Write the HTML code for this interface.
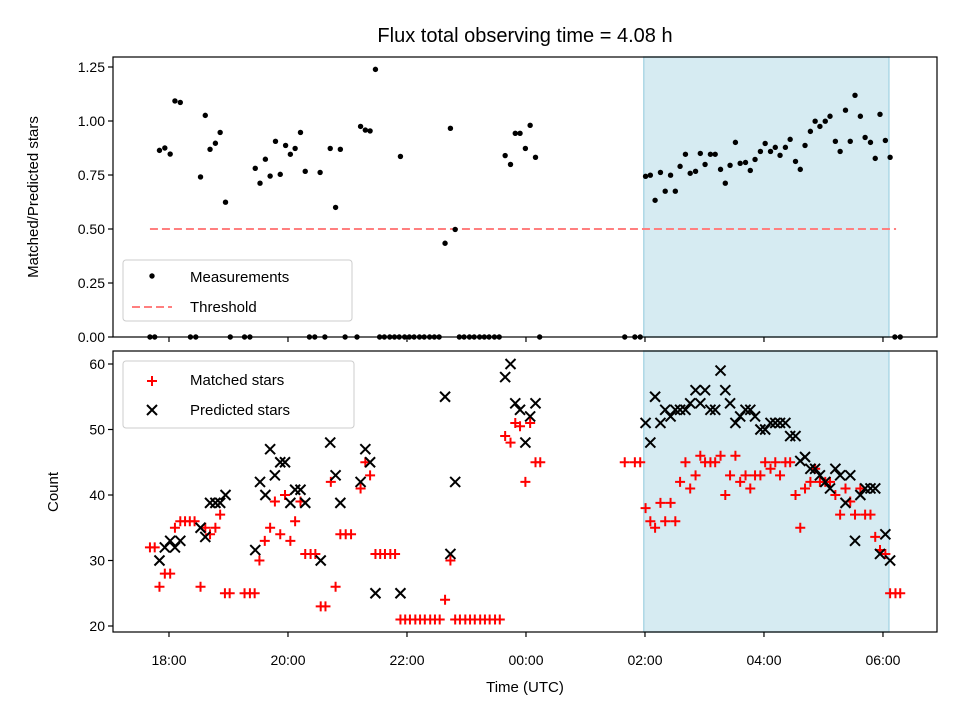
<!DOCTYPE html>
<html><head><meta charset="utf-8"><style>
body{margin:0;background:#fff}
svg{display:block;font-family:"Liberation Sans","DejaVu Sans",sans-serif}
</style></head><body>
<svg id="chart" width="960" height="720" viewBox="0 0 960 720" xmlns="http://www.w3.org/2000/svg"></svg>
<script>
// hours since 18:00 UTC
const shadeRange=[7.98,12.1];
const thresholdValue=0.5;
const thresholdRange=[-0.32,12.22];
const measT=[-0.16,-0.07,0.02,0.10,0.19,0.53,0.61,0.69,0.78,0.86,0.95,1.45,1.53,1.62,1.70,1.79,1.87,1.96,2.04,2.12,2.21,2.29,2.54,2.71,2.80,2.88,3.22,3.30,3.38,3.47,3.89,4.64,4.73,4.81,5.65,5.74,5.82,5.90,5.99,6.07,6.16,
8.01,8.09,8.17,8.26,8.34,8.43,8.51,8.59,8.68,8.76,8.85,8.93,9.01,9.10,9.18,9.27,9.35,9.43,9.52,9.60,9.69,9.77,9.85,9.94,10.02,10.11,10.19,10.27,10.36,10.44,10.53,10.61,10.69,10.78,10.86,10.94,11.03,11.11,11.20,11.28,11.37,11.45,11.53,11.62,11.70,11.79,11.87,11.95,12.04,12.12];
const measV=[0.864,0.875,0.847,1.093,1.086,0.741,1.026,0.869,0.897,0.947,0.624,0.781,0.712,0.823,0.745,0.906,0.753,0.887,0.846,0.873,0.947,0.767,0.762,0.873,0.600,0.869,0.975,0.958,0.954,1.239,0.836,0.434,0.966,0.498,0.840,0.799,0.943,0.943,0.873,0.980,0.832,
0.744,0.749,0.633,0.762,0.675,0.749,0.675,0.790,0.846,0.758,0.767,0.850,0.799,0.846,0.846,0.776,0.712,0.795,0.901,0.804,0.808,0.771,0.822,0.859,0.896,0.859,0.878,0.841,0.878,0.915,0.813,0.776,0.887,0.952,0.999,0.975,0.999,1.022,0.906,0.859,1.050,0.906,1.119,1.022,0.924,0.901,0.827,1.031,0.910,0.832];
const zeroT=[-0.32,-0.24,0.36,0.45,1.03,1.27,1.36,2.36,2.45,2.62,2.96,3.16,3.54,3.62,3.71,3.79,3.87,3.96,4.04,4.12,4.21,4.29,4.38,4.46,4.54,4.88,4.96,5.05,5.13,5.22,5.30,5.38,5.47,5.55,6.23,7.66,7.83,7.92,12.20,12.29];
const matchT=[-0.32,-0.24,-0.16,-0.07,0.02,0.10,0.19,0.27,0.35,0.43,0.53,0.61,0.69,0.78,0.86,0.94,1.02,1.27,1.36,1.44,1.52,1.61,1.70,1.78,1.87,1.95,2.04,2.12,2.21,2.29,2.38,2.46,2.55,2.63,2.72,2.80,2.88,2.97,3.06,3.22,3.30,3.38,3.47,3.55,3.63,3.72,3.80,
3.89,3.97,4.05,4.14,4.22,4.30,4.39,4.47,4.55,4.64,4.73,4.81,4.89,4.98,5.06,5.14,5.23,5.31,5.39,5.48,5.56,5.65,5.74,5.82,5.90,5.99,6.07,6.16,6.24,
7.66,7.83,7.92,8.01,8.09,8.17,8.26,8.34,8.43,8.51,8.59,8.68,8.76,8.85,8.93,9.01,9.10,9.18,9.27,9.35,9.43,9.52,9.60,9.69,9.77,9.85,9.94,10.02,10.11,10.19,10.27,10.36,10.44,10.53,10.61,10.69,10.78,10.86,10.94,11.03,11.11,11.20,11.28,11.37,11.45,11.53,11.62,11.70,11.79,11.87,11.95,12.04,12.12,12.21,12.29];
const matchV=[32,32,26,28,28,35,36,36,36,36,26,35,34,35,37,25,25,25,25,25,30,33,35,39,34,40,33,36,39,31,31,31,23,23,42,26,34,34,34,41,45,43,31,31,31,31,31,
21,21,21,21,21,21,21,21,21,24,30,21,21,21,21,21,21,21,21,21,21,49,48,51,50.5,42,51,45,45,
45,45,45,38,36,35,38.8,36,38.8,36,42,45,41,43,46,45,45,45,46,40,43,46,42,43,41,43,43,45,44,45,43,45,45,40,35,41,42,44,42,42,42,40,37,41,39,37,41,37,37,33.6,31.6,31,25,25,25];
const predT=[-0.16,-0.07,0.02,0.10,0.19,0.53,0.61,0.69,0.78,0.86,0.95,1.45,1.53,1.62,1.70,1.78,1.87,1.95,2.04,2.12,2.21,2.29,2.55,2.71,2.80,2.88,3.22,3.30,3.38,3.47,3.89,4.64,4.73,4.81,5.65,5.74,5.82,5.90,5.99,6.07,6.16,
8.01,8.09,8.17,8.26,8.34,8.43,8.51,8.59,8.68,8.76,8.85,8.93,9.01,9.10,9.18,9.27,9.35,9.43,9.52,9.60,9.69,9.77,9.85,9.94,10.02,10.11,10.19,10.27,10.36,10.44,10.53,10.61,10.69,10.78,10.86,10.94,11.03,11.11,11.20,11.28,11.37,11.45,11.53,11.62,11.70,11.79,11.87,11.95,12.04,12.12];
const predV=[30,32,33,32,33,35,33.6,38.8,38.8,38.8,40,31.6,42,40,47,43,45,45,38.8,40.8,40.8,38.8,30,48,43,38.8,42,47,45,25,25,55,31,42,58,60,54,53,48,52,54,
51,48,55,51,53,52,53,53,53,54,56,54,56,53,53,59,56,54,51,52,53,53,52,50,50,51,51,51,51,49,49,45.2,45.8,44,44,43,42,41,44,43,38.8,43,33,40,41,41,41,31,34,30];
const xTickVals=[0,2,4,6,8,10,12];
const xTickLabels=["18:00","20:00","22:00","00:00","02:00","04:00","06:00"];
const topTickVals=[0,0.25,0.5,0.75,1.0,1.25];
const topTickLabels=["0.00","0.25","0.50","0.75","1.00","1.25"];
const botTickVals=[20,30,40,50,60];
const botTickLabels=["20","30","40","50","60"];

const NS="http://www.w3.org/2000/svg";
const svg=document.getElementById('chart');
const L=113,R=937;
const T1=57,B1=337,T2=351,B2=632;
const xmin=-0.941,xmax=12.908;
const X=t=>L+(t-xmin)/(xmax-xmin)*(R-L);
const Y1=v=>337-v*216;
const Y2=c=>626-(c-20)*6.55;
function mk(tag,attrs,parent){const e=document.createElementNS(NS,tag);for(const k in attrs)e.setAttribute(k,attrs[k]);(parent||svg).appendChild(e);return e;}

const title=mk('text',{x:525,y:42,'text-anchor':'middle','font-size':'20',fill:'#000'});
title.textContent='Flux total observing time = 4.08 h';



function panel(top,bot,name){
  const g=mk('g',{});
  
  
  const sh=mk('rect',{x:X(shadeRange[0]),y:top,width:X(shadeRange[1])-X(shadeRange[0]),height:bot-top,fill:'#add8e6','fill-opacity':0.5,stroke:'#add8e6','stroke-width':1.5},g);
  
  
  return g;
}
function frame(top,bot,g){
  const f=mk('rect',{x:L,y:top,width:R-L,height:bot-top,fill:'none',stroke:'#000','stroke-width':1.2},g);
  
  
  xTickVals.forEach((v,i)=>{
    const tk=mk('line',{x1:X(v),x2:X(v),y1:bot,y2:bot+5,stroke:'#000','stroke-width':1.2},g);
    
    
  });
}

const g1=panel(T1,B1,'ratio-panel');
const thr=mk('line',{x1:X(thresholdRange[0]),x2:X(thresholdRange[1]),y1:Y1(thresholdValue),y2:Y1(thresholdValue),stroke:'#ff7f7f','stroke-width':2,'stroke-dasharray':'8,4'},g1);


measT.forEach((t,i)=>{
  const c=mk('circle',{cx:X(t),cy:Y1(measV[i]),r:2.7,fill:'#000'},g1);
  
  
});
zeroT.forEach(t=>{
  const c=mk('circle',{cx:X(t),cy:Y1(0),r:2.7,fill:'#000'},g1);
  
  
});
frame(T1,B1,g1);
topTickVals.forEach((v,i)=>{
  const y=Y1(v);
  const tk=mk('line',{x1:L-5,x2:L,y1:y,y2:y,stroke:'#000','stroke-width':1.2},g1);
  
  
  const tx=mk('text',{x:L-8,y:y+5,'text-anchor':'end','font-size':'14'},g1);
  tx.textContent=topTickLabels[i];
  
  
});
const yl1=mk('text',{x:0,y:0,'text-anchor':'middle','font-size':'15',transform:'translate(38,197) rotate(-90)'},g1);
yl1.textContent='Matched/Predicted stars';



const lg1=mk('g',{});


mk('rect',{x:123,y:260,width:229,height:61,rx:3,fill:'#fff','fill-opacity':0.8,stroke:'#ccc'},lg1);
mk('circle',{cx:152,cy:276,r:2.7,fill:'#000'},lg1);
const lt1=mk('text',{x:190,y:282,'font-size':'15'},lg1);lt1.textContent='Measurements';


mk('line',{x1:132,x2:172,y1:307,y2:307,stroke:'#ff7f7f','stroke-width':2,'stroke-dasharray':'8,4'},lg1);
const lt2=mk('text',{x:190,y:312,'font-size':'15'},lg1);lt2.textContent='Threshold';



const g2=panel(T2,B2,'count-panel');
matchT.forEach((t,i)=>{
  const x=X(t),y=Y2(matchV[i]);
  const p=mk('path',{d:`M${x-5},${y}H${x+5}M${x},${y-5}V${y+5}`,stroke:'#f00','stroke-width':2},g2);
  
  
});
predT.forEach((t,i)=>{
  const x=X(t),y=Y2(predV[i]);
  const p=mk('path',{d:`M${x-5},${y-5}L${x+5},${y+5}M${x-5},${y+5}L${x+5},${y-5}`,stroke:'#000','stroke-width':2},g2);
  
  
});
frame(T2,B2,g2);
botTickVals.forEach((v,i)=>{
  const y=Y2(v);
  const tk=mk('line',{x1:L-5,x2:L,y1:y,y2:y,stroke:'#000','stroke-width':1.2},g2);
  
  
  const tx=mk('text',{x:L-8,y:y+5,'text-anchor':'end','font-size':'14'},g2);
  tx.textContent=botTickLabels[i];
  
  
});
xTickVals.forEach((v,i)=>{
  const tx=mk('text',{x:X(v),y:B2+33,'text-anchor':'middle','font-size':'14'},g2);
  tx.textContent=xTickLabels[i];
  
  
});
const yl2=mk('text',{x:0,y:0,'text-anchor':'middle','font-size':'15',transform:'translate(58,492) rotate(-90)'},g2);
yl2.textContent='Count';


const xl=mk('text',{x:525,y:692,'text-anchor':'middle','font-size':'15'},g2);
xl.textContent='Time (UTC)';



const lg2=mk('g',{});


mk('rect',{x:123,y:361,width:231,height:67,rx:3,fill:'#fff','fill-opacity':0.8,stroke:'#ccc'},lg2);
mk('path',{d:'M147,381H157M152,376V386',stroke:'#f00','stroke-width':2},lg2);
const lt3=mk('text',{x:190,y:385,'font-size':'15'},lg2);lt3.textContent='Matched stars';


mk('path',{d:'M147,405L157,415M147,415L157,405',stroke:'#000','stroke-width':2},lg2);
const lt4=mk('text',{x:190,y:415,'font-size':'15'},lg2);lt4.textContent='Predicted stars';


</script>
</body></html>
